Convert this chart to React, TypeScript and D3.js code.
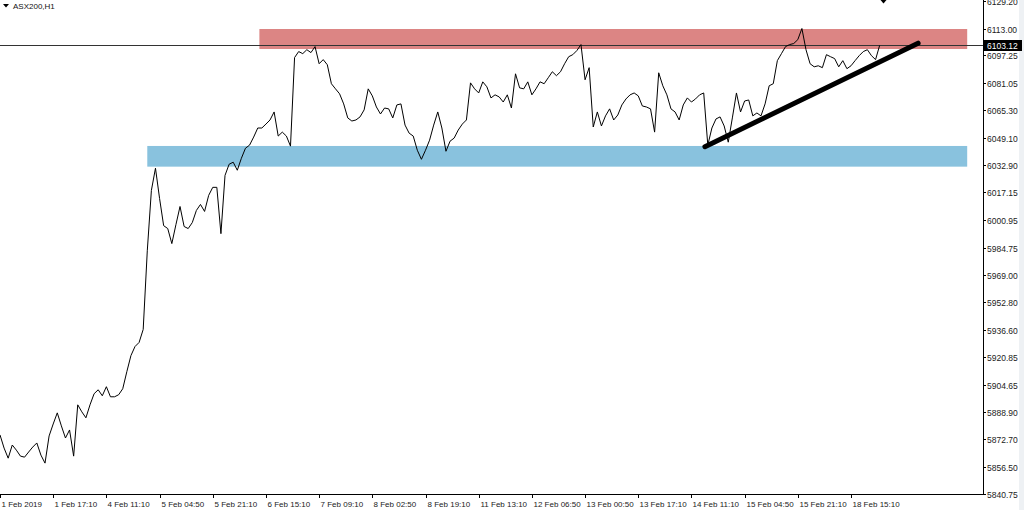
import React from 'react';
import * as d3 from 'd3';

// Hourly closes, ASX200 H1 (1 Feb 2019 – 18 Feb 2019)
const closes: number[] = [
  5875.3, 5867.6, 5861.7, 5869.4, 5866.4, 5862.9, 5862.3, 5865.3, 5868.2, 5870.6,
  5863.5, 5858.8, 5874.7, 5881.7, 5888.2, 5880.6, 5873.5, 5878.2, 5862.9, 5892.9,
  5888.8, 5885.3, 5892.9, 5899.4, 5901.7, 5898.2, 5903.5, 5897.6, 5897.6, 5898.8,
  5902.3, 5912.3, 5921.7, 5927.0, 5929.4, 5937.0, 5983.0, 6018.3, 6031.3, 6013.6,
  5997.7, 5996.0, 5987.2, 5998.3, 6008.9, 5997.2, 5996.0, 5999.5, 6006.6, 6010.1,
  6006.0, 6015.4, 6020.1, 6020.1, 5993.0, 6027.1, 6033.6, 6034.8, 6030.1, 6037.1,
  6043.0, 6044.8, 6049.5, 6054.8, 6054.8, 6057.1, 6059.5, 6064.2, 6050.1, 6052.4,
  6050.1, 6044.2, 6096.0, 6099.5, 6098.3, 6100.6, 6098.9, 6102.4, 6092.4, 6094.8,
  6091.8, 6080.7, 6077.7, 6074.8, 6068.9, 6060.7, 6058.9, 6059.5, 6061.3, 6065.4,
  6077.7, 6073.6, 6067.1, 6063.0, 6066.5, 6066.0, 6060.7, 6068.3, 6068.9, 6056.5,
  6051.8, 6050.1, 6041.8, 6036.5, 6041.8, 6047.7, 6056.5, 6064.2, 6054.8, 6041.2,
  6047.1, 6048.9, 6053.6, 6057.1, 6059.5, 6081.2, 6077.7, 6075.3, 6081.8, 6078.9,
  6072.4, 6074.2, 6073.0, 6070.0, 6074.2, 6066.5, 6086.5, 6078.3, 6077.7, 6081.8,
  6074.2, 6077.7, 6081.8, 6080.7, 6084.2, 6087.7, 6085.4, 6087.7, 6092.4, 6096.5,
  6097.7, 6100.1, 6103.6, 6083.0, 6090.1, 6055.4, 6064.2, 6056.0, 6061.9, 6066.0,
  6059.5, 6062.4, 6068.3, 6071.8, 6074.2, 6075.3, 6073.6, 6067.7, 6067.1, 6066.0,
  6052.4, 6087.1, 6079.5, 6074.2, 6066.0, 6064.2, 6059.5, 6068.3, 6072.4, 6070.0,
  6071.8, 6074.2, 6075.3, 6044.8, 6054.8, 6060.1, 6061.3, 6056.0, 6046.5, 6060.7,
  6075.3, 6064.2, 6070.6, 6071.2, 6061.9, 6063.6, 6061.9, 6068.9, 6079.5, 6080.7,
  6094.2, 6098.3, 6102.4, 6103.6, 6104.2, 6106.5, 6113.0, 6100.6, 6092.4, 6090.6,
  6091.2, 6090.1, 6097.7, 6096.5, 6095.4, 6090.6, 6094.2, 6089.5, 6091.2, 6094.2,
  6097.1, 6099.5, 6100.6, 6097.1, 6094.8, 6103.1,
];

const timeLabels: string[] = [
  '1 Feb 2019', '1 Feb 17:10', '4 Feb 11:10', '5 Feb 04:50', '5 Feb 21:10',
  '6 Feb 15:10', '7 Feb 09:10', '8 Feb 02:50', '8 Feb 19:10', '11 Feb 13:10',
  '12 Feb 06:50', '13 Feb 00:50', '13 Feb 17:10', '14 Feb 11:10', '15 Feb 04:50',
  '15 Feb 21:10', '18 Feb 15:10',
];
const barsPerLabel = 13;

const priceTicks: number[] = [
  6129.2, 6113.0, 6097.25, 6081.05, 6065.3, 6049.1, 6032.9, 6017.15, 6000.95,
  5984.75, 5969.0, 5952.8, 5936.6, 5920.85, 5904.65, 5888.9, 5872.7, 5856.5, 5840.75,
];

const currentPrice = 6103.12;
const symbolTitle = 'ASX200,H1';

// zones: [barFrom, barTo, priceLow, priceHigh]
const resistanceZone = [63.4, 236.4, 6101.0, 6112.7];
const supportZone = [36.0, 236.4, 6032.2, 6044.3];
// trendline: [bar, price]
const trendStart = [172.3, 6043.9];
const trendEnd = [224.4, 6104.4];

const W = 1024;
const H = 510;
const plotRight = 983;
const plotBottom = 494;
const font = "'Liberation Sans', Arial, sans-serif";

export default function App() {
  const x = d3.scaleLinear().domain([0, barsPerLabel * 16]).range([0, 851]);
  const y = d3.scaleLinear().domain([5840.75, 6113.0]).range([plotBottom, 28.5]);

  const linePath = d3
    .line<number>()
    .x((_, i) => x(i))
    .y((d) => y(d))(closes) as string;

  const zoneRect = (z: number[], color: string) => (
    <rect
      x={x(z[0])}
      y={y(z[3])}
      width={x(z[1]) - x(z[0])}
      height={y(z[2]) - y(z[3])}
      fill={color}
    />
  );

  const cpY = Math.round(y(currentPrice)) + 0.5;

  return (
    <svg
      width={W}
      height={H}
      style={{ position: 'absolute', left: 0, top: 0, background: '#fff' }}
      fontFamily={font}
    >
      <defs>
        <clipPath id="plot">
          <rect x={0} y={0} width={plotRight} height={plotBottom} />
        </clipPath>
      </defs>
      <rect x={0} y={0} width={W} height={H} fill="#fff" />
      <rect x={1019} y={0} width={5} height={H} fill="#eef1f4" />

      <g clipPath="url(#plot)">
        {zoneRect(resistanceZone, '#dc8584')}
        {zoneRect(supportZone, '#89c2de')}
        <line x1={0} x2={plotRight} y1={cpY} y2={cpY} stroke="#333" strokeWidth={1} />
        <path d={linePath} fill="none" stroke="#000" strokeWidth={1} strokeLinejoin="round" />
        <line
          x1={x(trendStart[0])}
          y1={y(trendStart[1])}
          x2={x(trendEnd[0])}
          y2={y(trendEnd[1])}
          stroke="#000"
          strokeWidth={5}
          strokeLinecap="round"
        />
        <path d="M880.5,0 L886.5,0 L883.5,3.5 Z" fill="#000" />
      </g>

      {/* title */}
      <path d="M3,4 L9,4 L6,7.5 Z" fill="#000" />
      <text x={13} y={9} fontSize={8} fill="#111">{symbolTitle}</text>

      {/* frame */}
      <line x1={plotRight + 0.5} x2={plotRight + 0.5} y1={0} y2={plotBottom + 0.5} stroke="#000" />
      <line x1={0} x2={plotRight + 0.5} y1={plotBottom + 0.5} y2={plotBottom + 0.5} stroke="#000" />

      {/* price axis */}
      {priceTicks.map((v) => {
        const py = Math.round(y(v)) + 0.5;
        return (
          <g key={v}>
            <line x1={plotRight} x2={plotRight + 3} y1={py} y2={py} stroke="#000" />
            <text x={987} y={py + 3} fontSize={8.5} fill="#222">
              {v.toFixed(2)}
            </text>
          </g>
        );
      })}

      {/* current price label */}
      <rect x={984} y={cpY - 5.5} width={38} height={11} fill="#000" />
      <text x={987} y={cpY + 3} fontSize={8.5} fill="#fff">
        {currentPrice.toFixed(2)}
      </text>

      {/* time axis */}
      {timeLabels.map((t, i) => {
        const tx = Math.round(x(i * barsPerLabel)) + 0.5;
        return (
          <g key={t}>
            <line x1={tx} x2={tx} y1={plotBottom} y2={plotBottom + 4} stroke="#000" />
            <text x={tx + 1} y={507} fontSize={8} fill="#222">
              {t}
            </text>
          </g>
        );
      })}
    </svg>
  );
}
